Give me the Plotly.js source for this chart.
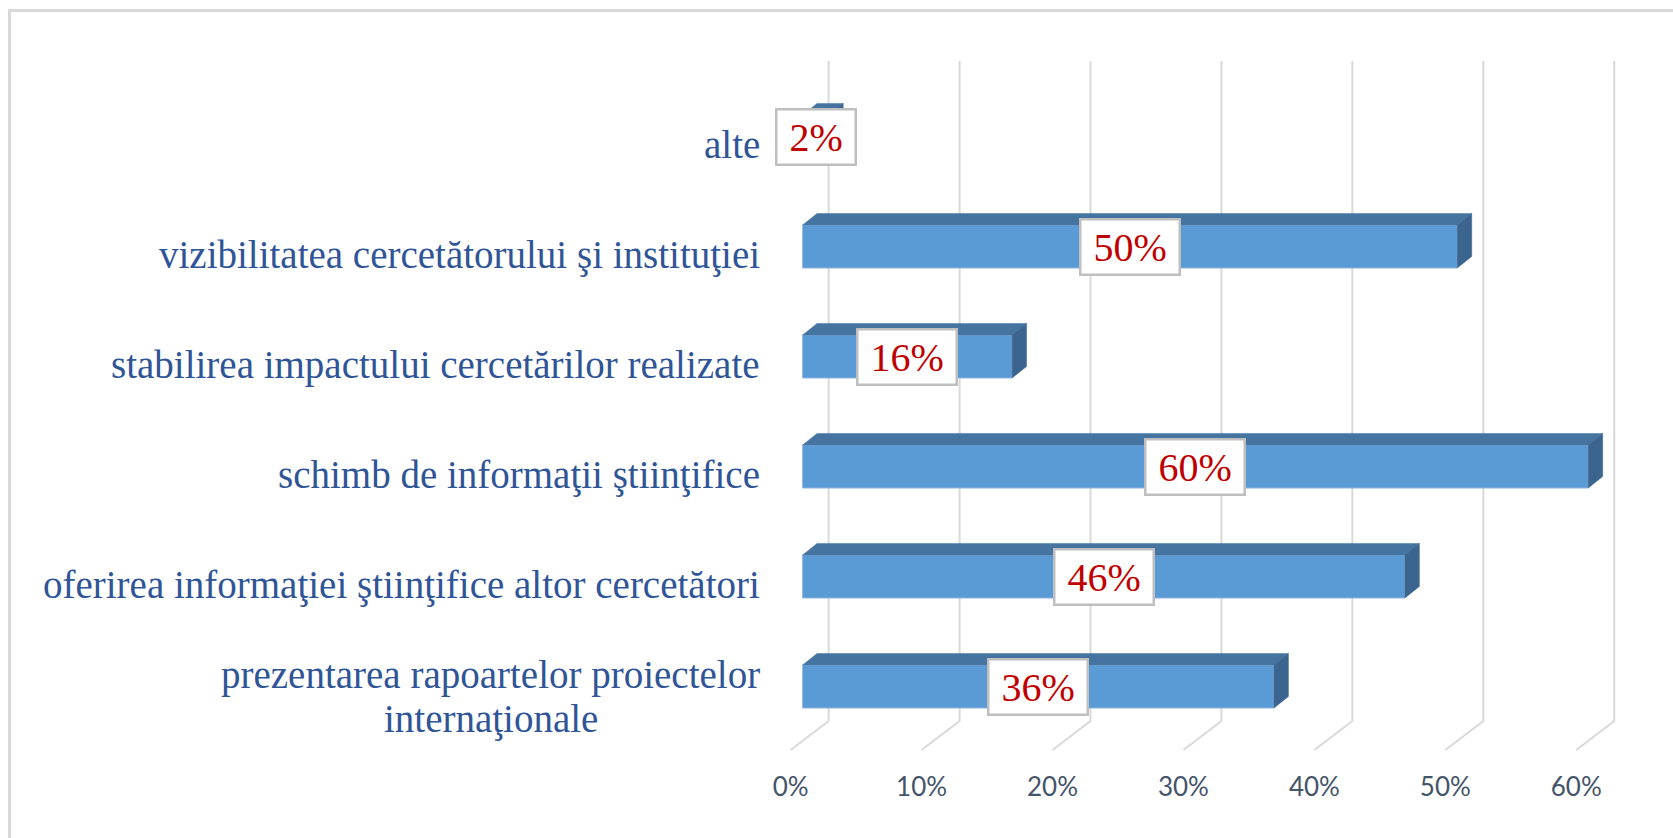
<!DOCTYPE html>
<html>
<head>
<meta charset="utf-8">
<script src="https://cdn.plot.ly/plotly-3.0.1.min.js"></script>
<style>html,body{margin:0;padding:0;background:#fff;}#chart{width:1673px;height:838px;}</style>
</head>
<body>
<div id="chart"></div>
<script>
// ---- data ----
const categories = [
  'prezentarea rapoartelor proiectelor<br>internaţionale',
  'oferirea informaţiei ştiinţifice altor cercetători',
  'schimb de informaţii ştiinţifice',
  'stabilirea impactului cercetărilor realizate',
  'vizibilitatea cercetătorului şi instituţiei',
  'alte'
];
const values = [36, 46, 60, 16, 50, 2];
const tickValues = [0, 10, 20, 30, 40, 50, 60];
const tickLabels = ['0%', '10%', '20%', '30%', '40%', '50%', '60%'];

// ---- 3D look (offsets in axis units) ----
const BACK_DX = 1.985, FLOOR_DX = -0.92;
const Y_BACK = -0.314, Y_FRONT = -0.577, Y_TOP = 5.686;
const BAR_H = 0.391, BAR_DX = 1.1, BAR_DY = 0.105;
const ys = categories.map((c, i) => i);

const FRONT = '#5B9BD5', TOP = '#4674A1', SIDE = '#3B658E';

// front faces
const barTrace = {
  type: 'bar', orientation: 'h', x: values, y: ys, width: BAR_H, base: 0,
  marker: {color: FRONT, line: {color: '#8DB3DF', width: 1}},
  hoverinfo: 'skip'
};
// top faces & side faces
const tx = [], ty = [], sx = [], sy = [];
values.forEach((v, i) => {
  const yt = i + BAR_H / 2, yb = i - BAR_H / 2;
  tx.push(0, v, v + BAR_DX, BAR_DX, 0, null);
  ty.push(yt, yt, yt + BAR_DY, yt + BAR_DY, yt, null);
  sx.push(v, v, v + BAR_DX, v + BAR_DX, v, null);
  sy.push(yb, yt, yt + BAR_DY, yb + BAR_DY, yb, null);
});
const topTrace = {type: 'scatter', mode: 'lines', x: tx, y: ty, fill: 'toself', fillcolor: TOP,
  line: {color: TOP, width: 0.5}, hoverinfo: 'skip', connectgaps: false};
const sideTrace = {type: 'scatter', mode: 'lines', x: sx, y: sy, fill: 'toself', fillcolor: SIDE,
  line: {color: SIDE, width: 0.5}, hoverinfo: 'skip', connectgaps: false};

// gridlines on back wall + floor
const shapes = tickValues.map(t => ({
  type: 'path', xref: 'x', yref: 'y', layer: 'below',
  path: `M${t + BACK_DX},${Y_TOP} L${t + BACK_DX},${Y_BACK} L${t + FLOOR_DX},${Y_FRONT}`,
  line: {color: '#D9D9D9', width: 2}
}));

// figure geometry
const W = 1673, H = 838, L = 783, R = 52, T = 54, B = 80;
const pw = W - L - R, ph = H - T - B;
const px2paperX = p => (p - L) / pw;
const px2paperY = p => 1 - (p - T) / ph;
shapes.push({type: 'rect', xref: 'paper', yref: 'paper', layer: 'below',
  x0: px2paperX(9.5), x1: px2paperX(1700), y0: px2paperY(860), y1: px2paperY(10.5),
  line: {color: '#D9D9D9', width: 3}});

// labels
const LABEL_SIZE = 39;
const LABEL_FONT = {family: 'Liberation Serif, Times New Roman, serif', size: LABEL_SIZE, color: '#2F5597'};
const cv = document.createElement('canvas').getContext('2d');
cv.font = LABEL_SIZE + "px 'Liberation Serif'";
const annotations = [];
categories.forEach((c, i) => {
  const lines = c.split('<br>');
  if (lines.length === 1) {
    annotations.push({x: 0, xref: 'paper', y: i, yref: 'y', xanchor: 'right', yanchor: 'middle',
      xshift: -21, yshift: -8, text: c, showarrow: false, font: LABEL_FONT});
  } else {
    const w1 = cv.measureText(lines[0]).width, w2 = cv.measureText(lines[1]).width;
    annotations.push({x: 0, xref: 'paper', y: i, yref: 'y', xanchor: 'right', yanchor: 'middle',
      xshift: -21, yshift: 12, text: lines[0], showarrow: false, font: LABEL_FONT});
    annotations.push({x: 0, xref: 'paper', y: i, yref: 'y', xanchor: 'right', yanchor: 'middle',
      xshift: -21 - (w1 - w2) / 2, yshift: -32, text: lines[1], showarrow: false, font: LABEL_FONT});
  }
});
values.forEach((v, i) => {
  annotations.push({x: v / 2, y: i, xref: 'x', yref: 'y', xanchor: 'center', yanchor: 'middle',
    text: '\u2009' + v + '%\u2009', showarrow: false,
    font: {family: 'Liberation Serif, Times New Roman, serif', size: 40, color: '#C00000'},
    bgcolor: '#FFFFFF', bordercolor: '#BFBFBF', borderwidth: 2.5, borderpad: 4});
});

const layout = {
  width: W, height: H,
  margin: {l: L, r: R, t: T, b: B, pad: 0},
  paper_bgcolor: '#FFFFFF', plot_bgcolor: 'rgba(0,0,0,0)',
  showlegend: false,
  xaxis: {range: [-1.5, 62.5], tickvals: tickValues, ticktext: tickLabels,
    showgrid: false, zeroline: false, showline: false, ticks: '',
    ticklabelshift: -12, ticklabelstandoff: 11,
    tickfont: {family: 'Liberation Sans Narrow, Lato, sans-serif', size: 26, color: '#44546A'},
    fixedrange: true},
  yaxis: {range: [-0.65, 5.75], showgrid: false, zeroline: false, showline: false,
    showticklabels: false, ticks: '', fixedrange: true},
  shapes: shapes,
  annotations: annotations
};

Plotly.newPlot('chart', [barTrace, topTrace, sideTrace], layout, {displayModeBar: false, staticPlot: true});
</script>
</body>
</html>
